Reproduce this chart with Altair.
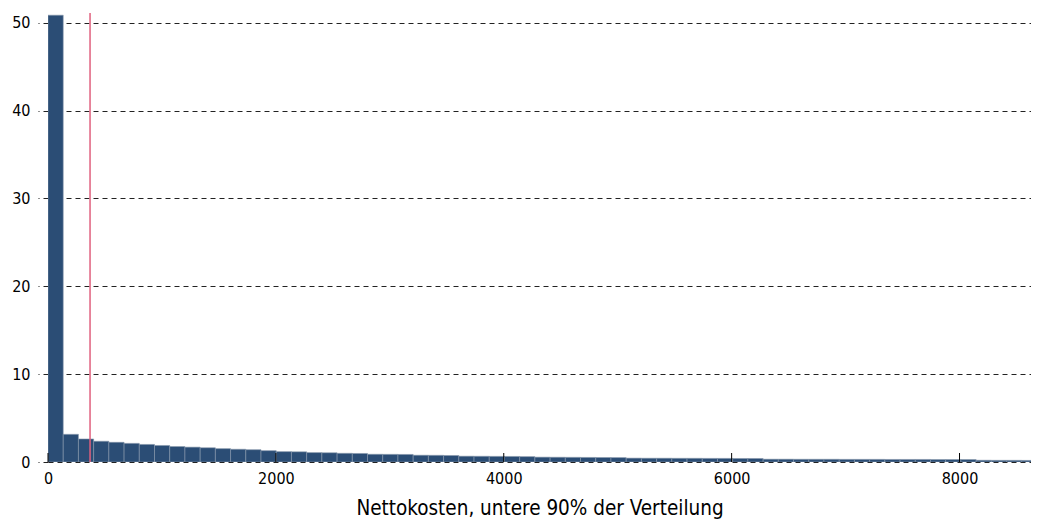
import altair as alt
import pandas as pd

# Histogram of net costs (lower 90% of distribution), 65 equal-width bins
x_max = 8680.0
n_bins = 65
percent = [
    50.85, 3.15, 2.62, 2.36, 2.24, 2.12, 2.00, 1.88, 1.76, 1.69,
    1.62, 1.52, 1.45, 1.40, 1.29, 1.18, 1.16, 1.07, 1.05, 0.99,
    0.97, 0.88, 0.87, 0.86, 0.77, 0.76, 0.74, 0.66, 0.65, 0.64,
    0.63, 0.61, 0.55, 0.54, 0.53, 0.52, 0.51, 0.50,
    0.44, 0.43, 0.43, 0.42, 0.42, 0.41, 0.41, 0.40, 0.40,
    0.32, 0.32, 0.31, 0.31, 0.31, 0.30, 0.30, 0.30, 0.29, 0.29, 0.29, 0.28, 0.28, 0.28,
    0.20, 0.19, 0.19, 0.18,
]
marker_value = [369]
x_ticks = [0, 2000, 4000, 6000, 8000]
y_ticks = [0, 10, 20, 30, 40, 50]

bw = x_max / n_bins
hist = pd.DataFrame({
    "start": [i * bw for i in range(n_bins)],
    "end": [(i + 1) * bw for i in range(n_bins)],
    "pct": percent,
})
FONT = "DejaVu Sans Condensed, Liberation Sans Narrow, sans-serif"
W, H = 983, 449
# keep the reference's pixel scale (989 px for 8680); right edge clipped by window
x_vis = x_max * W / 989.0

xscale = alt.Scale(domain=[0, x_vis], nice=False, zero=False)
yscale = alt.Scale(domain=[0, 51.1], nice=False)

bars = alt.Chart(hist).mark_rect(
    color="#2b4d75", stroke="#8797ab", strokeWidth=0.6, clip=True
).encode(
    x=alt.X("start:Q", scale=xscale,
            axis=alt.Axis(values=x_ticks, format="d", title="Nettokosten, untere 90% der Verteilung",
                          ticks=False, domain=False, grid=False, labelPadding=8,
                          labelFontSize=16, titleFontSize=20.5, titlePadding=12,
                          labelColor="black", titleColor="black", titleFontWeight="normal",
                          labelFont=FONT, titleFont=FONT, labelFlush=False)),
    x2="end:Q",
    y=alt.Y("pct:Q", scale=yscale,
            axis=alt.Axis(values=y_ticks, title=None, domain=False,
                          tickSize=10, tickDash=[5, 4], tickColor="#222", tickWidth=1,
                          grid=True, gridDash=[5, 4], gridColor="#222", gridWidth=1, gridOpacity=1,
                          labelFontSize=16, labelPadding=8, labelColor="black", labelFont=FONT)),
    y2=alt.datum(0),
)

tick_df = pd.DataFrame({"t": x_ticks})
xtick_rules = alt.Chart(tick_df).mark_rule(color="black", strokeWidth=1).encode(
    x=alt.X("t:Q", scale=xscale),
    y=alt.value(H),
    y2=alt.value(H - 9),
)

marker = alt.Chart(pd.DataFrame({"m": marker_value})).mark_rule(
    color="#e0607e", strokeWidth=1.5
).encode(
    x=alt.X("m:Q", scale=xscale),
    y=alt.value(0),
    y2=alt.value(H),
)

chart = alt.layer(bars, marker, xtick_rules).properties(
    width=W, height=H,
    background="white",
    autosize=alt.AutoSizeParams(type="none"),
    padding={"left": 40, "top": 5, "right": 0, "bottom": 62},
).configure_view(stroke="transparent", strokeWidth=0)

chart.save("out.html", embed_options={"renderer": "svg", "actions": False})
